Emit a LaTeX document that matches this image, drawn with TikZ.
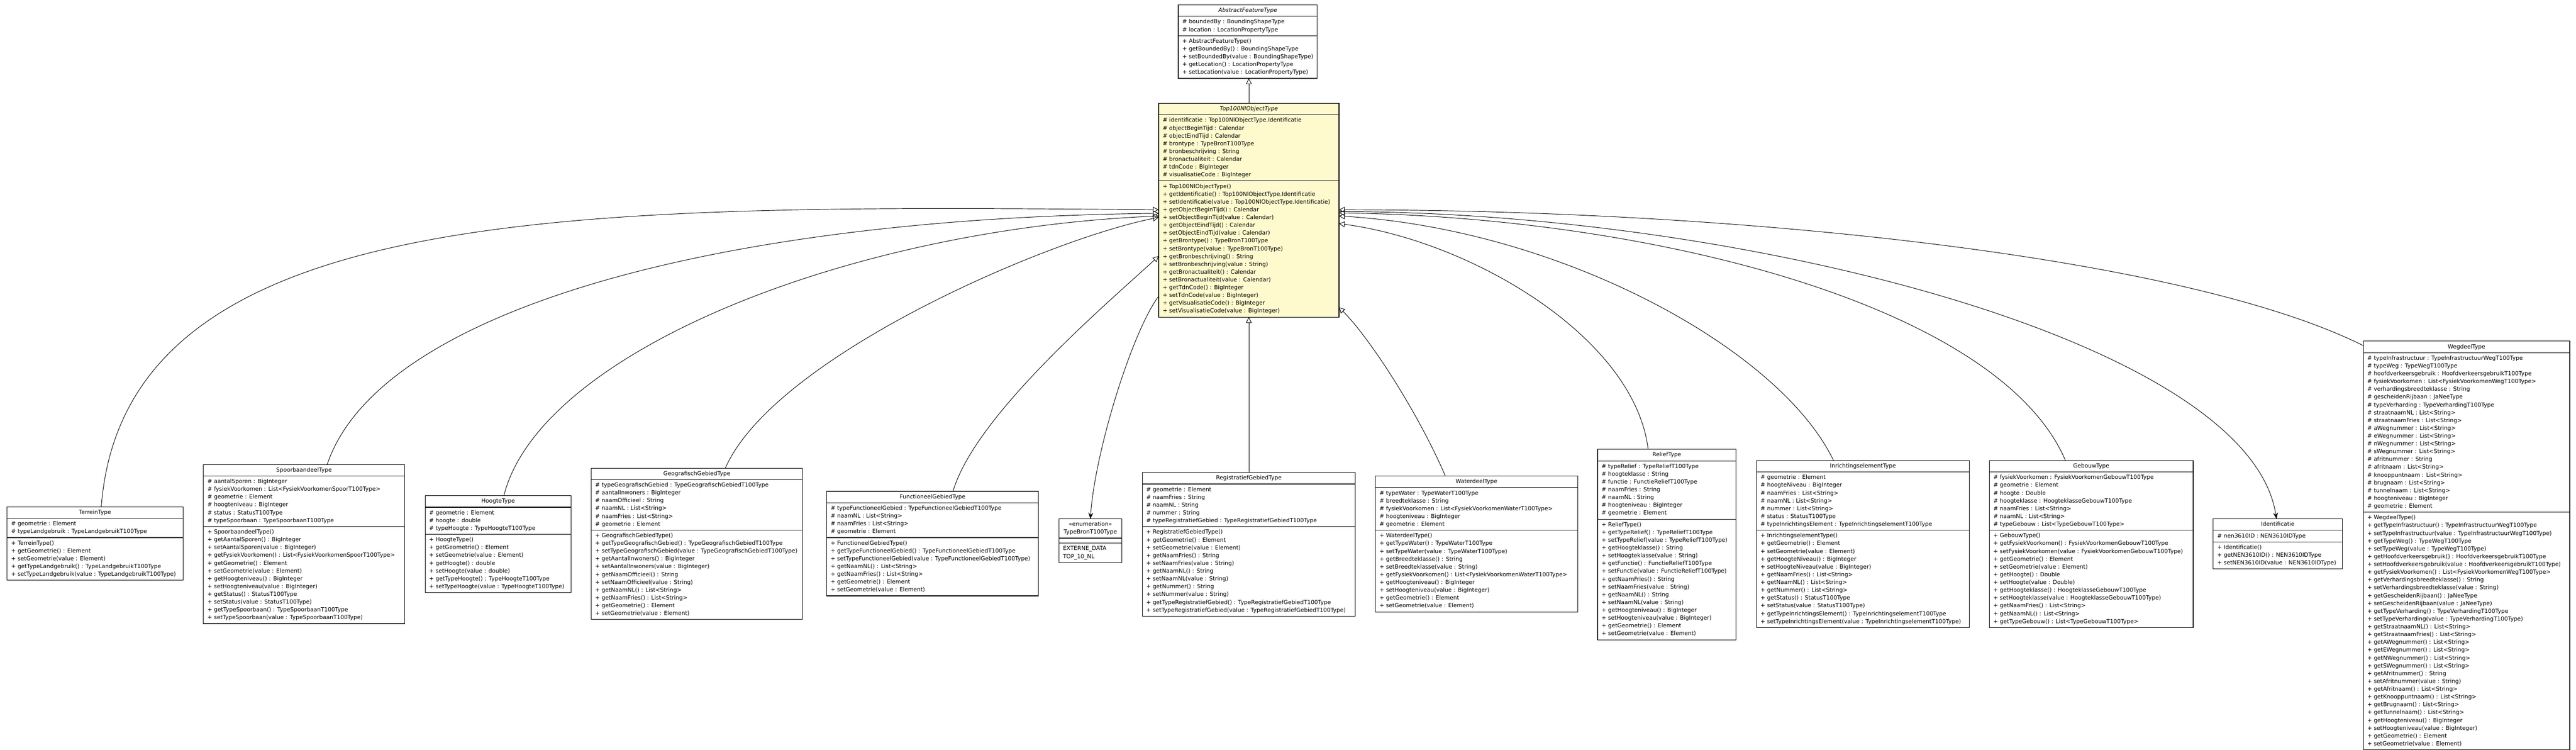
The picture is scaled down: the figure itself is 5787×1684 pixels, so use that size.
\documentclass[tikz,border=0pt]{standalone}
\usepackage{fontspec}
\setmainfont{DejaVu Sans}
\usetikzlibrary{shapes.multipart,arrows.meta,calc,positioning}
\newcommand{\rowfont}{\fontsize{12.7}{17.5}\selectfont}
\newcommand{\rows}[1]{\begin{tabular}{@{}l@{}}#1\end{tabular}}
\newcommand{\head}[1]{\begin{tabular}{@{}c@{}}#1\end{tabular}}
\newcommand{\linkwidth}{1.1pt}
\newcommand{\boxline}{1.3pt}
\definecolor{abstractfill}{RGB}{255,250,205}

\begin{document}
\begin{tikzpicture}[x=1pt,y=-1pt]

%% class box and connector styles
\tikzstyle{umlclass}=[rectangle split, rectangle split parts=3, rectangle split part align={center,left,left}, draw, line width=\boxline, inner xsep=9pt, inner ysep=3.5pt, outer sep=0pt, anchor=north west, font=\rowfont]
\tikzstyle{extends}=[line width=\linkwidth, -{Triangle[open,length=13pt,width=13pt]}]
\tikzstyle{assoc}=[line width=\linkwidth, -{Stealth[length=14pt,width=11pt,inset=5pt]}]

\useasboundingbox (0,0) rectangle (5787,1684);

%% the two abstract classes
\node (abstractfeature) [umlclass, minimum width=312pt] at (2647,11) {\head{\itshape AbstractFeatureType}
\nodepart{second}\rows{\# boundedBy : BoundingShapeType\\ \# location : LocationPropertyType}
\nodepart{third}\rows{+ AbstractFeatureType()\\ + getBoundedBy() : BoundingShapeType\\ + setBoundedBy(value : BoundingShapeType)\\ + getLocation() : LocationPropertyType\\ + setLocation(value : LocationPropertyType)}};

\node (top100) [umlclass, fill=abstractfill, minimum width=405pt] at (2603,232) {\head{\itshape Top100NlObjectType}
\nodepart{second}\rows{\# identificatie : Top100NlObjectType.Identificatie\\ \# objectBeginTijd : Calendar\\ \# objectEindTijd : Calendar\\ \# brontype : TypeBronT100Type\\ \# bronbeschrijving : String\\ \# bronactualiteit : Calendar\\ \# tdnCode : BigInteger\\ \# visualisatieCode : BigInteger}
\nodepart{third}\rows{+ Top100NlObjectType()\\ + getIdentificatie() : Top100NlObjectType.Identificatie\\ + setIdentificatie(value : Top100NlObjectType.Identificatie)\\ + getObjectBeginTijd() : Calendar\\ + setObjectBeginTijd(value : Calendar)\\ + getObjectEindTijd() : Calendar\\ + setObjectEindTijd(value : Calendar)\\ + getBrontype() : TypeBronT100Type\\ + setBrontype(value : TypeBronT100Type)\\ + getBronbeschrijving() : String\\ + setBronbeschrijving(value : String)\\ + getBronactualiteit() : Calendar\\ + setBronactualiteit(value : Calendar)\\ + getTdnCode() : BigInteger\\ + setTdnCode(value : BigInteger)\\ + getVisualisatieCode() : BigInteger\\ + setVisualisatieCode(value : BigInteger)}};

%% subclasses, left to right
\node (terrein) [umlclass, minimum width=395pt] at (16,1138) {\head{TerreinType}
\nodepart{second}\rows{\# geometrie : Element\\ \# typeLandgebruik : TypeLandgebruikT100Type}
\nodepart{third}\rows{+ TerreinType()\\ + getGeometrie() : Element\\ + setGeometrie(value : Element)\\ + getTypeLandgebruik() : TypeLandgebruikT100Type\\ + setTypeLandgebruik(value : TypeLandgebruikT100Type)}};

\node (spoorbaandeel) [umlclass, minimum width=452pt] at (457,1043) {\head{SpoorbaandeelType}
\nodepart{second}\rows{\# aantalSporen : BigInteger\\ \# fysiekVoorkomen : List<FysiekVoorkomenSpoorT100Type>\\ \# geometrie : Element\\ \# hoogteniveau : BigInteger\\ \# status : StatusT100Type\\ \# typeSpoorbaan : TypeSpoorbaanT100Type}
\nodepart{third}\rows{+ SpoorbaandeelType()\\ + getAantalSporen() : BigInteger\\ + setAantalSporen(value : BigInteger)\\ + getFysiekVoorkomen() : List<FysiekVoorkomenSpoorT100Type>\\ + getGeometrie() : Element\\ + setGeometrie(value : Element)\\ + getHoogteniveau() : BigInteger\\ + setHoogteniveau(value : BigInteger)\\ + getStatus() : StatusT100Type\\ + setStatus(value : StatusT100Type)\\ + getTypeSpoorbaan() : TypeSpoorbaanT100Type\\ + setTypeSpoorbaan(value : TypeSpoorbaanT100Type)}};

\node (hoogte) [umlclass, minimum width=328pt] at (955,1113) {\head{HoogteType}
\nodepart{second}\rows{\# geometrie : Element\\ \# hoogte : double\\ \# typeHoogte : TypeHoogteT100Type}
\nodepart{third}\rows{+ HoogteType()\\ + getGeometrie() : Element\\ + setGeometrie(value : Element)\\ + getHoogte() : double\\ + setHoogte(value : double)\\ + getTypeHoogte() : TypeHoogteT100Type\\ + setTypeHoogte(value : TypeHoogteT100Type)}};

\node (geografisch) [umlclass, minimum width=475pt] at (1328,1051) {\head{GeografischGebiedType}
\nodepart{second}\rows{\# typeGeografischGebied : TypeGeografischGebiedT100Type\\ \# aantalInwoners : BigInteger\\ \# naamOfficieel : String\\ \# naamNL : List<String>\\ \# naamFries : List<String>\\ \# geometrie : Element}
\nodepart{third}\rows{+ GeografischGebiedType()\\ + getTypeGeografischGebied() : TypeGeografischGebiedT100Type\\ + setTypeGeografischGebied(value : TypeGeografischGebiedT100Type)\\ + getAantalInwoners() : BigInteger\\ + setAantalInwoners(value : BigInteger)\\ + getNaamOfficieel() : String\\ + setNaamOfficieel(value : String)\\ + getNaamNL() : List<String>\\ + getNaamFries() : List<String>\\ + getGeometrie() : Element\\ + setGeometrie(value : Element)}};

\node (functioneel) [umlclass, minimum width=476pt] at (1857,1103) {\head{FunctioneelGebiedType}
\nodepart{second}\rows{\# typeFunctioneelGebied : TypeFunctioneelGebiedT100Type\\ \# naamNL : List<String>\\ \# naamFries : List<String>\\ \# geometrie : Element}
\nodepart{third}\rows{+ FunctioneelGebiedType()\\ + getTypeFunctioneelGebied() : TypeFunctioneelGebiedT100Type\\ + setTypeFunctioneelGebied(value : TypeFunctioneelGebiedT100Type)\\ + getNaamNL() : List<String>\\ + getNaamFries() : List<String>\\ + getGeometrie() : Element\\ + setGeometrie(value : Element)}};

\node (typebron) [umlclass, minimum width=141pt] at (2379,1165) {\head{«enumeration»\\ TypeBronT100Type}
\nodepart{second}\rows{}
\nodepart{third}\rows{EXTERNE\_DATA\\ TOP\_10\_NL}};

\node (registratief) [umlclass, minimum width=479pt] at (2566,1061) {\head{RegistratiefGebiedType}
\nodepart{second}\rows{\# geometrie : Element\\ \# naamFries : String\\ \# naamNL : String\\ \# nummer : String\\ \# typeRegistratiefGebied : TypeRegistratiefGebiedT100Type}
\nodepart{third}\rows{+ RegistratiefGebiedType()\\ + getGeometrie() : Element\\ + setGeometrie(value : Element)\\ + getNaamFries() : String\\ + setNaamFries(value : String)\\ + getNaamNL() : String\\ + setNaamNL(value : String)\\ + getNummer() : String\\ + setNummer(value : String)\\ + getTypeRegistratiefGebied() : TypeRegistratiefGebiedT100Type\\ + setTypeRegistratiefGebied(value : TypeRegistratiefGebiedT100Type)}};

\node (waterdeel) [umlclass, minimum width=454pt] at (3090,1069) {\head{WaterdeelType}
\nodepart{second}\rows{\# typeWater : TypeWaterT100Type\\ \# breedteklasse : String\\ \# fysiekVoorkomen : List<FysiekVoorkomenWaterT100Type>\\ \# hoogteniveau : BigInteger\\ \# geometrie : Element}
\nodepart{third}\rows{+ WaterdeelType()\\ + getTypeWater() : TypeWaterT100Type\\ + setTypeWater(value : TypeWaterT100Type)\\ + getBreedteklasse() : String\\ + setBreedteklasse(value : String)\\ + getFysiekVoorkomen() : List<FysiekVoorkomenWaterT100Type>\\ + getHoogteniveau() : BigInteger\\ + setHoogteniveau(value : BigInteger)\\ + getGeometrie() : Element\\ + setGeometrie(value : Element)}};

\node (relief) [umlclass, minimum width=311pt] at (3589,1009) {\head{ReliefType}
\nodepart{second}\rows{\# typeRelief : TypeReliefT100Type\\ \# hoogteklasse : String\\ \# functie : FunctieReliefT100Type\\ \# naamFries : String\\ \# naamNL : String\\ \# hoogteniveau : BigInteger\\ \# geometrie : Element}
\nodepart{third}\rows{+ ReliefType()\\ + getTypeRelief() : TypeReliefT100Type\\ + setTypeRelief(value : TypeReliefT100Type)\\ + getHoogteklasse() : String\\ + setHoogteklasse(value : String)\\ + getFunctie() : FunctieReliefT100Type\\ + setFunctie(value : FunctieReliefT100Type)\\ + getNaamFries() : String\\ + setNaamFries(value : String)\\ + getNaamNL() : String\\ + setNaamNL(value : String)\\ + getHoogteniveau() : BigInteger\\ + setHoogteniveau(value : BigInteger)\\ + getGeometrie() : Element\\ + setGeometrie(value : Element)}};

\node (inrichting) [umlclass, minimum width=478pt] at (3946,1034) {\head{InrichtingselementType}
\nodepart{second}\rows{\# geometrie : Element\\ \# hoogteNiveau : BigInteger\\ \# naamFries : List<String>\\ \# naamNL : List<String>\\ \# nummer : List<String>\\ \# status : StatusT100Type\\ \# typeInrichtingsElement : TypeInrichtingselementT100Type}
\nodepart{third}\rows{+ InrichtingselementType()\\ + getGeometrie() : Element\\ + setGeometrie(value : Element)\\ + getHoogteNiveau() : BigInteger\\ + setHoogteNiveau(value : BigInteger)\\ + getNaamFries() : List<String>\\ + getNaamNL() : List<String>\\ + getNummer() : List<String>\\ + getStatus() : StatusT100Type\\ + setStatus(value : StatusT100Type)\\ + getTypeInrichtingsElement() : TypeInrichtingselementT100Type\\ + setTypeInrichtingsElement(value : TypeInrichtingselementT100Type)}};

\node (gebouw) [umlclass, minimum width=458pt] at (4469,1034) {\head{GebouwType}
\nodepart{second}\rows{\# fysiekVoorkomen : FysiekVoorkomenGebouwT100Type\\ \# geometrie : Element\\ \# hoogte : Double\\ \# hoogteklasse : HoogteklasseGebouwT100Type\\ \# naamFries : List<String>\\ \# naamNL : List<String>\\ \# typeGebouw : List<TypeGebouwT100Type>}
\nodepart{third}\rows{+ GebouwType()\\ + getFysiekVoorkomen() : FysiekVoorkomenGebouwT100Type\\ + setFysiekVoorkomen(value : FysiekVoorkomenGebouwT100Type)\\ + getGeometrie() : Element\\ + setGeometrie(value : Element)\\ + getHoogte() : Double\\ + setHoogte(value : Double)\\ + getHoogteklasse() : HoogteklasseGebouwT100Type\\ + setHoogteklasse(value : HoogteklasseGebouwT100Type)\\ + getNaamFries() : List<String>\\ + getNaamNL() : List<String>\\ + getTypeGebouw() : List<TypeGebouwT100Type>}};

\node (identificatie) [umlclass, minimum width=290pt] at (4972,1165) {\head{Identificatie}
\nodepart{second}\rows{\# nen3610ID : NEN3610IDType}
\nodepart{third}\rows{+ Identificatie()\\ + getNEN3610ID() : NEN3610IDType\\ + setNEN3610ID(value : NEN3610IDType)}};

\node (wegdeel) [umlclass, minimum width=464pt] at (5309,766) {\head{WegdeelType}
\nodepart{second}\rows{\# typeInfrastructuur : TypeInfrastructuurWegT100Type\\ \# typeWeg : TypeWegT100Type\\ \# hoofdverkeersgebruik : HoofdverkeersgebruikT100Type\\ \# fysiekVoorkomen : List<FysiekVoorkomenWegT100Type>\\ \# verhardingsbreedteklasse : String\\ \# gescheidenRijbaan : JaNeeType\\ \# typeVerharding : TypeVerhardingT100Type\\ \# straatnaamNL : List<String>\\ \# straatnaamFries : List<String>\\ \# aWegnummer : List<String>\\ \# eWegnummer : List<String>\\ \# nWegnummer : List<String>\\ \# sWegnummer : List<String>\\ \# afritnummer : String\\ \# afritnaam : List<String>\\ \# knooppuntnaam : List<String>\\ \# brugnaam : List<String>\\ \# tunnelnaam : List<String>\\ \# hoogteniveau : BigInteger\\ \# geometrie : Element}
\nodepart{third}\rows{+ WegdeelType()\\ + getTypeInfrastructuur() : TypeInfrastructuurWegT100Type\\ + setTypeInfrastructuur(value : TypeInfrastructuurWegT100Type)\\ + getTypeWeg() : TypeWegT100Type\\ + setTypeWeg(value : TypeWegT100Type)\\ + getHoofdverkeersgebruik() : HoofdverkeersgebruikT100Type\\ + setHoofdverkeersgebruik(value : HoofdverkeersgebruikT100Type)\\ + getFysiekVoorkomen() : List<FysiekVoorkomenWegT100Type>\\ + getVerhardingsbreedteklasse() : String\\ + setVerhardingsbreedteklasse(value : String)\\ + getGescheidenRijbaan() : JaNeeType\\ + setGescheidenRijbaan(value : JaNeeType)\\ + getTypeVerharding() : TypeVerhardingT100Type\\ + setTypeVerharding(value : TypeVerhardingT100Type)\\ + getStraatnaamNL() : List<String>\\ + getStraatnaamFries() : List<String>\\ + getAWegnummer() : List<String>\\ + getEWegnummer() : List<String>\\ + getNWegnummer() : List<String>\\ + getSWegnummer() : List<String>\\ + getAfritnummer() : String\\ + setAfritnummer(value : String)\\ + getAfritnaam() : List<String>\\ + getKnooppuntnaam() : List<String>\\ + getBrugnaam() : List<String>\\ + getTunnelnaam() : List<String>\\ + getHoogteniveau() : BigInteger\\ + setHoogteniveau(value : BigInteger)\\ + getGeometrie() : Element\\ + setGeometrie(value : Element)}};

%% attachment points on the sides of Top100NlObjectType
\coordinate (inTerrein) at ([yshift=-239pt]top100.north west);
\coordinate (inSpoor) at ([yshift=-247pt]top100.north west);
\coordinate (inHoogte) at ([yshift=-253pt]top100.north west);
\coordinate (inGeo) at ([yshift=-256pt]top100.north west);
\coordinate (inFunc) at ([yshift=-343pt]top100.north west);
\coordinate (outBron) at ([yshift=-433pt]top100.north west);
\coordinate (inWeg) at ([yshift=-239pt]top100.north east);
\coordinate (outIdent) at ([yshift=-243pt]top100.north east);
\coordinate (inGebouw) at ([yshift=-246pt]top100.north east);
\coordinate (inInricht) at ([yshift=-253pt]top100.north east);
\coordinate (inRelief) at ([yshift=-270pt]top100.north east);
\coordinate (inWater) at ([yshift=-458pt]top100.north east);

%% generalisations
\draw[extends] (top100.north) -- (top100.north |- abstractfeature.south);
\draw[extends] ([xshift=14pt]terrein.north) .. controls +(53,-688) and +(-1303,-11) .. (inTerrein);
\draw[extends] ([xshift=52pt]spoorbaandeel.north) .. controls +(115,-343) and +(-1003,11) .. (inSpoor);
\draw[extends] ([xshift=13pt]hoogte.north) .. controls +(80,-320) and +(-703,30) .. (inHoogte);
\draw[extends] ([xshift=64pt]geografisch.north) .. controls +(110,-250) and +(-250,50) .. (inGeo);
\draw[extends] ([xshift=46pt]functioneel.north) .. controls +(50,-170) and +(-120,110) .. (inFunc);
\draw[extends] (registratief.north) -- (registratief.north |- top100.south);
\draw[extends] ([xshift=-70pt]waterdeel.north) .. controls +(-60,-140) and +(70,70) .. (inWater);
\draw[extends] ([xshift=-42pt]relief.north) .. controls +(-30,-250) and +(300,40) .. (inRelief);
\draw[extends] ([xshift=-66pt]inrichting.north) .. controls +(-120,-250) and +(500,30) .. (inInricht);
\draw[extends] ([xshift=-58pt]gebouw.north) .. controls +(-150,-350) and +(700,10) .. (inGebouw);
\draw[extends] ([yshift=-10pt]wegdeel.north west) .. controls +(-400,-200) and +(900,0) .. (inWeg);

%% associations
\draw[assoc] (outBron) .. controls +(-60,80) and +(10,-150) .. (typebron.north);
\draw[assoc] (outIdent) .. controls +(900,0) and +(-60,-400) .. ([xshift=-3pt]identificatie.north);

\end{tikzpicture}
\end{document}
